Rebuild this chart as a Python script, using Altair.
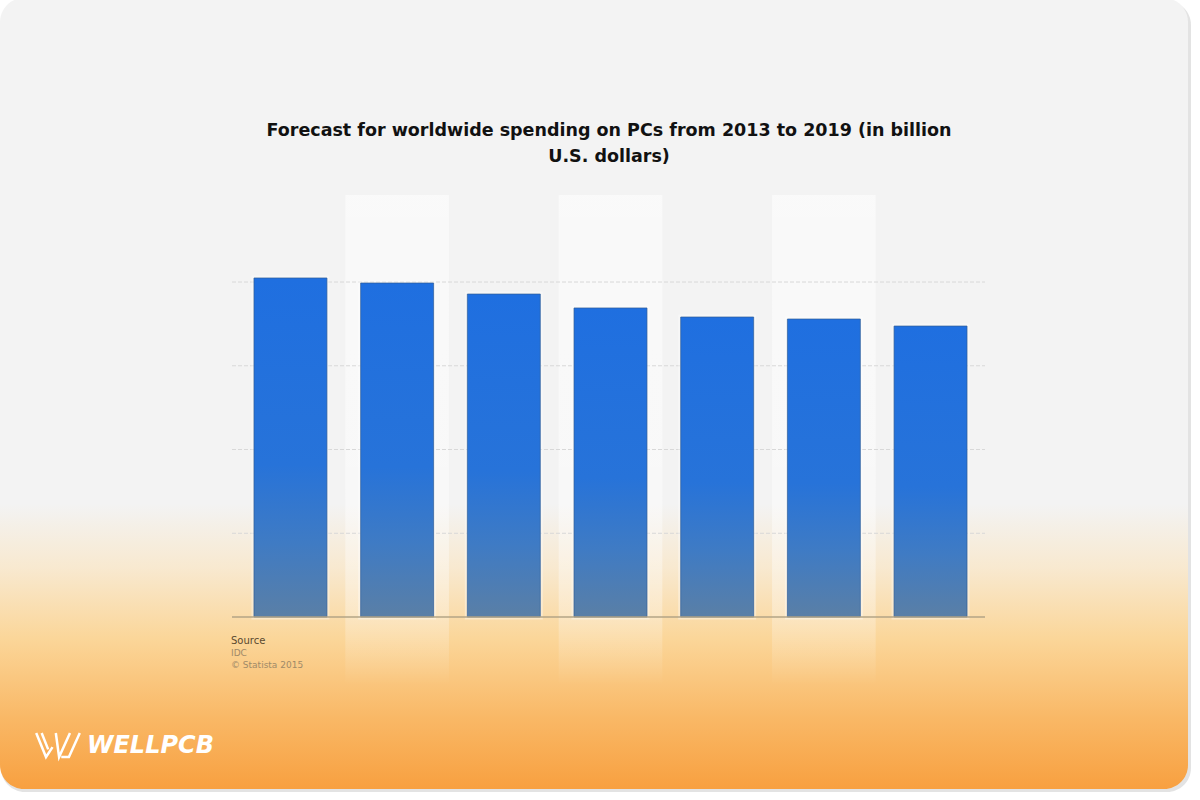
import altair as alt
import pandas as pd

# ---- data ----
years = ["2013", "2014", "2015", "2016", "2017", "2018", "2019"]
spending = [202.4, 199.4, 192.8, 184.5, 179.1, 177.9, 173.7]
grid_values = [50, 100, 150, 200]
band_years = ["2014", "2016", "2018"]
title_lines = ["Forecast for worldwide spending on PCs from 2013 to 2019 (in billion", "U.S. dollars)"]
source_lines = ["Source", "IDC", "© Statista 2015"]
brand = ["WELLPCB"]

df = pd.DataFrame({"year": years, "value": spending})
grid_df = pd.DataFrame({"v": grid_values})
base_df = pd.DataFrame({"v": [0]})
band_df = pd.DataFrame({"year": band_years})
one = pd.DataFrame({"k": [0]})

W, H = 1200, 800

xscale = alt.Scale(domain=years, range=[232, 989], paddingInner=0.316, paddingOuter=0.206)
yscale = alt.Scale(domain=[0, 200], range=[617, 282], nice=False, zero=True)

# ---- background card ----
card_grad = alt.LinearGradient(
    gradient="linear", x1=0, y1=0, x2=0, y2=1,
    stops=[
        alt.GradientStop(color="#f3f3f3", offset=0),
        alt.GradientStop(color="#f3f3f3", offset=0.64),
        alt.GradientStop(color="#f8e9d0", offset=0.72),
        alt.GradientStop(color="#fbd699", offset=0.81),
        alt.GradientStop(color="#f9b866", offset=0.91),
        alt.GradientStop(color="#f8a040", offset=1),
    ],
)

shadow = alt.Chart(one).mark_rect(fill="#dcdcdc", cornerRadius=24, opacity=0.8).encode(
    x=alt.value(1), x2=alt.value(1191), y=alt.value(1), y2=alt.value(792)
)
card = alt.Chart(one).mark_rect(fill=card_grad, cornerRadius=24).encode(
    x=alt.value(0), x2=alt.value(1188), y=alt.value(-2), y2=alt.value(789)
)

# ---- column highlight bands ----
band_grad = alt.LinearGradient(
    gradient="linear", x1=0, y1=0, x2=0, y2=1,
    stops=[
        alt.GradientStop(color="rgba(255,255,255,0.55)", offset=0),
        alt.GradientStop(color="rgba(255,255,255,0.45)", offset=0.6),
        alt.GradientStop(color="rgba(255,255,255,0.3)", offset=0.85),
        alt.GradientStop(color="rgba(255,255,255,0)", offset=1),
    ],
)
bands = alt.Chart(band_df).mark_bar(
    fill=band_grad, width=alt.RelativeBandSize(1.42)
).encode(
    x=alt.X("year:N", scale=xscale, axis=None),
    y=alt.value(195), y2=alt.value(685),
)

# ---- gridlines ----
grid = alt.Chart(grid_df).mark_rule(color="#d8d8d8", strokeWidth=1, strokeDash=[4, 2]).encode(
    y=alt.Y("v:Q", scale=yscale, axis=None),
    x=alt.value(232), x2=alt.value(985),
)
baseline = alt.Chart(base_df).mark_rule(color="#b3a486", strokeWidth=1.5).encode(
    y=alt.Y("v:Q", scale=yscale, axis=None),
    x=alt.value(232), x2=alt.value(985),
)

# ---- bars ----
bar_grad = alt.LinearGradient(
    gradient="linear", x1=0, y1=0, x2=0, y2=1,
    stops=[
        alt.GradientStop(color="#1f6fe0", offset=0),
        alt.GradientStop(color="#2773d9", offset=0.55),
        alt.GradientStop(color="#3f7bc4", offset=0.78),
        alt.GradientStop(color="#5a7fa6", offset=1),
    ],
)
halo = alt.Chart(df).mark_bar(fill="#ffffff", stroke="#ffffff", strokeWidth=5, strokeOpacity=0.35).encode(
    x=alt.X("year:N", scale=xscale, axis=None),
    y=alt.Y("value:Q", scale=yscale, axis=None),
)
bars = alt.Chart(df).mark_bar(fill=bar_grad, stroke="#2f5c95", strokeWidth=1, strokeOpacity=0.7).encode(
    x=alt.X("year:N", scale=xscale, axis=None),
    y=alt.Y("value:Q", scale=yscale, axis=None),
)

# ---- title ----
t1 = alt.Chart(pd.DataFrame({"t": [title_lines[0]]})).mark_text(
    font="DejaVu Sans", fontWeight="bold", fontSize=17.5, color="#111111", align="center", baseline="middle"
).encode(text="t:N", x=alt.value(609), y=alt.value(131))
t2 = alt.Chart(pd.DataFrame({"t": [title_lines[1]]})).mark_text(
    font="DejaVu Sans", fontWeight="bold", fontSize=17.5, color="#111111", align="center", baseline="middle"
).encode(text="t:N", x=alt.value(609), y=alt.value(157))

# ---- source ----
s1 = alt.Chart(pd.DataFrame({"t": [source_lines[0]]})).mark_text(
    font="DejaVu Sans", fontSize=10, color="#5a4a30", align="left", baseline="middle"
).encode(text="t:N", x=alt.value(231), y=alt.value(641))
s2 = alt.Chart(pd.DataFrame({"t": [source_lines[1]]})).mark_text(
    font="DejaVu Sans", fontSize=9, color="#a08a68", align="left", baseline="middle"
).encode(text="t:N", x=alt.value(231), y=alt.value(653))
s3 = alt.Chart(pd.DataFrame({"t": [source_lines[2]]})).mark_text(
    font="DejaVu Sans", fontSize=9, color="#a08a68", align="left", baseline="middle"
).encode(text="t:N", x=alt.value(231), y=alt.value(665))

# ---- brand ----
logo_path = "M -1 -0.55 L -0.55 0.55 L -0.25 0.1 M -0.75 -0.55 L -0.45 0.2 M -0.1 -0.55 L 0.05 0.55 L 0.55 -0.55 M 1 -0.55 L 0.5 0.55 L 0.15 0.55"
logo = alt.Chart(one).mark_point(
    shape=logo_path, filled=False, stroke="#ffffff", strokeWidth=2.5, size=1900, opacity=1
).encode(x=alt.value(58), y=alt.value(745))
brand_t = alt.Chart(pd.DataFrame({"t": brand})).mark_text(
    font="DejaVu Sans", fontWeight="bold", fontStyle="italic", fontSize=24, color="#ffffff",
    align="left", baseline="middle"
).encode(text="t:N", x=alt.value(87), y=alt.value(746))

chart = alt.layer(
    shadow, card, bands, grid, halo, bars, baseline, t1, t2, s1, s2, s3, logo, brand_t
).properties(
    width=W, height=H, autosize=alt.AutoSizeParams(type="none"), padding=0, background="#ffffff"
).configure_view(stroke=None)

chart.save("out.html", embed_options={"renderer": "svg", "actions": False})
